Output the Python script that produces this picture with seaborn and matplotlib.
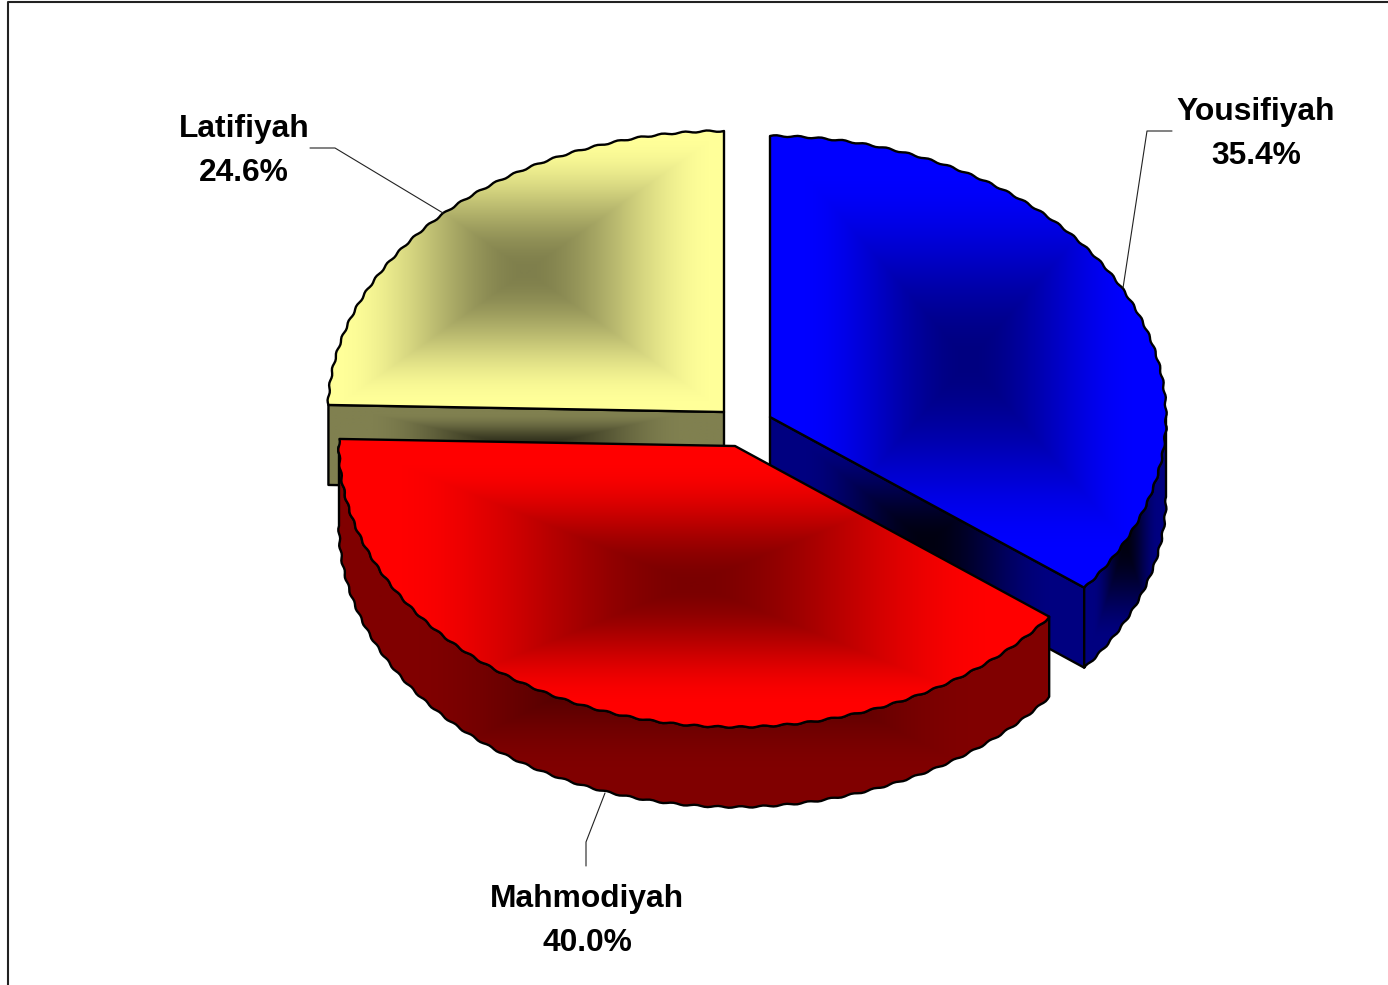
import numpy as np
import seaborn as sns
import matplotlib.pyplot as plt
from matplotlib.patches import Polygon

# share of each area, clockwise from 12 o'clock
areas = ['Yousifiyah', 'Mahmodiyah', 'Latifiyah']
shares = [35.4, 40.0, 24.6]

sns.set_theme(style='white')
plt.rcParams['font.family'] = ['Liberation Sans', 'DejaVu Sans']

# look of the pie, in pixels
RX, RY, DEPTH = 396, 281, 80
apex = {'Yousifiyah': (770, 417), 'Mahmodiyah': (735, 446), 'Latifiyah': (724, 412)}
top_cols = {'Yousifiyah': ('#000080', '#0000ff'), 'Mahmodiyah': ('#7a0000', '#ff0000'),
            'Latifiyah': ('#7f7f4c', '#ffff99')}
side_cols = {'Yousifiyah': ('#000010', '#000080'), 'Mahmodiyah': ('#300000', '#800000'),
             'Latifiyah': ('#2a2a18', '#808050')}
top_stop = {'Yousifiyah': 0.85, 'Mahmodiyah': 0.85, 'Latifiyah': 0.95}
label_pos = {'Yousifiyah': (1256, 134), 'Mahmodiyah': (587, 921), 'Latifiyah': (244, 151)}
leaders = {'Yousifiyah': ([1172, 1147, 1123], [131, 131, 288]),
           'Mahmodiyah': ([586, 586, 605], [866, 842, 793]),
           'Latifiyah': ([310, 335, 443], [148, 148, 213])}


def arc(c, t0, t1, dy=0):
    # elliptical rim with the slightly jagged edge of the old chart export
    t = np.radians(np.arange(t0, t1, 0.5).tolist() + [t1])
    wob = 0.8 * np.sin(t * 110)
    x = c[0] + (RX + wob) * np.sin(t)
    y = c[1] - (RY + wob) * np.cos(t) + dy
    return np.column_stack([x, y])


def face(ax, pts, cols, stop=0.8, z=1):
    # rectangular "from centre" gradient over the bounding box, clipped to the face
    x0, y0 = pts.min(axis=0)
    x1, y1 = pts.max(axis=0)
    xx, yy = np.meshgrid(np.linspace(-1, 1, int(x1 - x0) + 2), np.linspace(-1, 1, int(y1 - y0) + 2))
    grad = np.minimum(np.maximum(abs(xx), abs(yy)) / stop, 1)
    grad = 3 * grad ** 2 - 2 * grad ** 3
    cmap = sns.blend_palette(cols, as_cmap=True)
    im = ax.imshow(grad, cmap=cmap, vmin=0, vmax=1, extent=(x0, x1, y1, y0), origin='upper',
                   aspect='auto', zorder=z, interpolation='bilinear')
    edge = Polygon(pts, closed=True, fill=False, ec='black', lw=1.7, joinstyle='round', zorder=z + 0.5)
    ax.add_patch(edge)
    im.set_clip_path(edge)


fig = plt.figure(figsize=(13.88, 9.85), dpi=100)
ax = fig.add_axes([0, 0, 1, 1])

ends = np.cumsum(shares) * 3.6
starts = ends - np.array(shares) * 3.6
spans = dict(zip(areas, zip(starts, ends)))

# back to front
z = 1
for name in ['Latifiyah', 'Yousifiyah', 'Mahmodiyah']:
    c = apex[name]
    t0, t1 = spans[name]
    rim = arc(c, t0, t1)
    # cut wall facing the viewer
    if name == 'Latifiyah':
        p = arc(c, t0, t0)[0]
    elif name == 'Yousifiyah':
        p = arc(c, t1, t1)[0]
    else:
        p = None
    if p is not None:
        wall = np.array([c, p, (p[0], p[1] + DEPTH), (c[0], c[1] + DEPTH)])
        face(ax, wall, side_cols[name], z=z)
        z += 1
    # outer wall, only the part turned to the front
    a, b = max(t0, 90), min(t1, 270)
    if a < b:
        front = arc(c, a, b)
        outer = np.vstack([front, arc(c, a, b, DEPTH)[::-1]])
        face(ax, outer, side_cols[name], z=z)
        z += 1
    face(ax, np.vstack([c, rim]), top_cols[name], stop=top_stop[name], z=z)
    z += 1

for name, share in zip(areas, shares):
    ax.plot(*leaders[name], color='#222222', lw=0.8, zorder=z)
    ax.text(*label_pos[name], f'{name}\n{share:.1f}%', ha='center', va='center',
            fontsize=22.9, fontweight='bold', color='black', linespacing=1.58, zorder=z)

# chart frame, cut off by the crop at right and bottom
ax.plot([8, 8, 1388], [985, 1.5, 1.5], color='#222222', lw=1.5, zorder=z)

ax.set_xlim(0, 1388)
ax.set_ylim(985, 0)
ax.axis('off')
fig.savefig('out.png', dpi=100, facecolor='white')
